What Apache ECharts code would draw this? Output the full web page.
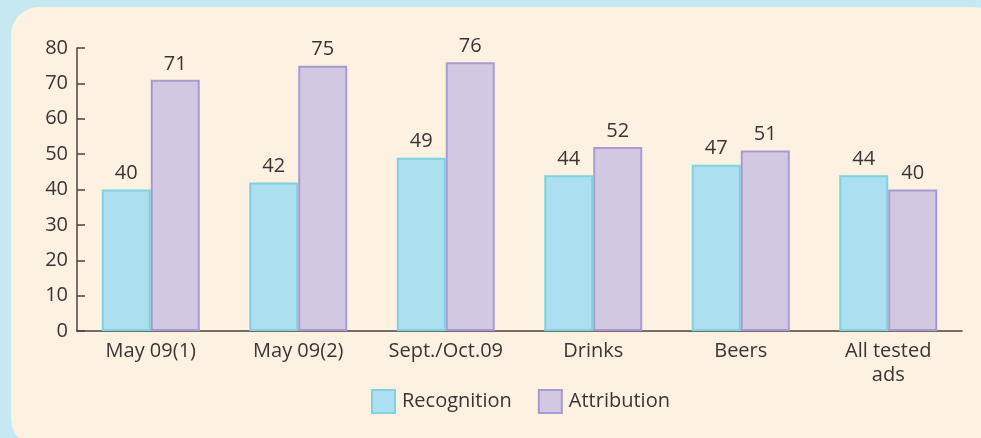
<!DOCTYPE html>
<html>
<head>
<meta charset="utf-8">
<script src="https://cdn.jsdelivr.net/npm/echarts@6/dist/echarts.min.js"></script>
<style>
  html, body { margin: 0; padding: 0; background: #c6e8f0; }
  #panel { position: absolute; left: 11px; top: 7px; width: 990px; height: 440px;
           background: #fdf1e2; border-radius: 28px; }
  #chart { position: absolute; left: 0; top: 0; width: 981px; height: 438px; }
</style>
</head>
<body>
<div id="panel"></div>
<div id="chart"></div>
<script>
const categories = ['May 09(1)', 'May 09(2)', 'Sept./Oct.09', 'Drinks', 'Beers', 'All tested\nads'];
const recognition = [40, 42, 49, 44, 47, 44];
const attribution = [71, 75, 76, 52, 51, 40];
const yTicks = { min: 0, max: 80, interval: 10 };

const textColor = '#3a3536';
const axisColor = '#4a4242';
const font = '"Open Sans", Lato, sans-serif';
const fs = 20;

const chart = echarts.init(document.getElementById('chart'));
chart.setOption({
  backgroundColor: 'transparent',
  textStyle: { fontFamily: font },
  grid: { left: 77, right: 19, top: 48, bottom: 107, containLabel: false },
  legend: {
    left: 366, top: 384,
    icon: 'rect',
    itemWidth: 23, itemHeight: 23, itemGap: 26,
    textStyle: { fontSize: fs, color: textColor, fontFamily: font, padding: [0, 0, 0, 2] },
    data: ['Recognition', 'Attribution']
  },
  xAxis: {
    type: 'category',
    data: categories,
    axisLine: { lineStyle: { color: axisColor, width: 1.5 } },
    axisTick: { inside: true, length: 8, lineStyle: { color: axisColor, width: 1.5 } },
    axisLabel: { interval: 0, fontSize: fs, color: textColor, margin: 8, lineHeight: 24, fontFamily: font }
  },
  yAxis: {
    type: 'value',
    min: yTicks.min, max: yTicks.max, interval: yTicks.interval,
    splitLine: { show: false },
    axisLine: { show: true, lineStyle: { color: axisColor, width: 1.5 } },
    axisTick: { show: true, inside: true, length: 8, lineStyle: { color: axisColor, width: 1.5 } },
    axisLabel: { fontSize: fs, color: textColor, margin: 9, fontFamily: font }
  },
  series: [
    {
      name: 'Recognition', type: 'bar', data: recognition,
      barWidth: 49, barGap: '0%',
      itemStyle: { color: '#acdfef', borderColor: '#7fd2e0', borderWidth: 2 },
      label: { show: true, position: 'top', distance: 6, fontSize: fs, color: textColor, fontFamily: font }
    },
    {
      name: 'Attribution', type: 'bar', data: attribution,
      barWidth: 49,
      itemStyle: { color: '#d3c8e2', borderColor: '#a79bd0', borderWidth: 2 },
      label: { show: true, position: 'top', distance: 6, fontSize: fs, color: textColor, fontFamily: font }
    }
  ]
});
</script>
</body>
</html>
